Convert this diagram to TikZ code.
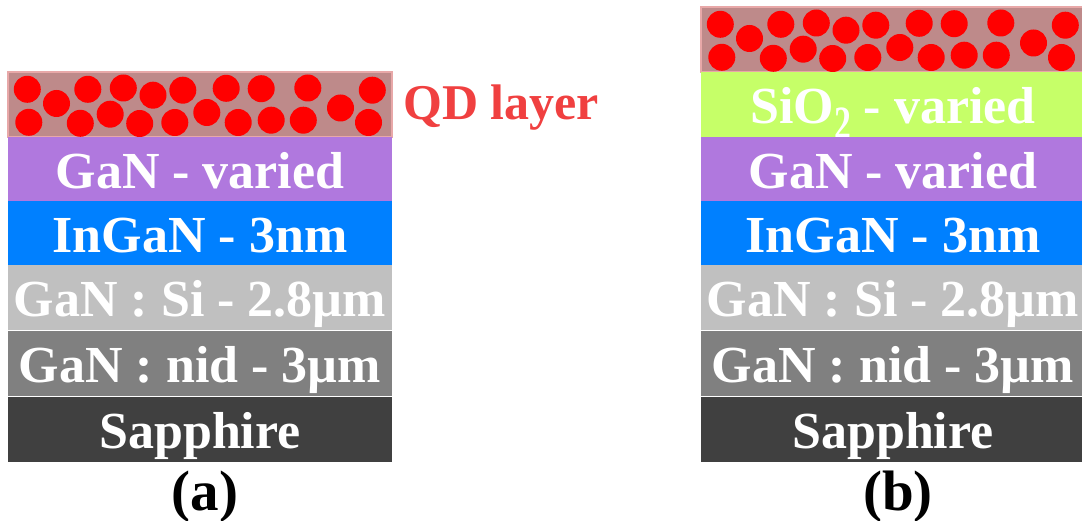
\documentclass[tikz,border=0pt]{standalone}
\usepackage{fontspec}
\usepackage{graphicx}
\setmainfont{Liberation Serif}
\definecolor{qdbg}{RGB}{190,138,138}
\definecolor{qdedge}{RGB}{232,168,168}
\definecolor{qdred}{RGB}{255,0,0}
\definecolor{qdlabel}{RGB}{240,64,64}
\definecolor{ganvar}{RGB}{176,120,222}
\definecolor{ingan}{RGB}{0,128,255}
\definecolor{gansi}{RGB}{192,192,192}
\definecolor{gannid}{RGB}{128,128,128}
\definecolor{sapph}{RGB}{64,64,64}
\definecolor{sio}{RGB}{198,255,104}
\begin{document}
\begin{tikzpicture}[x=1pt,y=-1pt,
  layerbox/.style={rectangle, inner sep=0pt, outer sep=0pt, anchor=north west,
    minimum width=384pt, minimum height=65pt, text=white,
    font=\fontsize{52}{52}\selectfont\bfseries, text height=38pt, text depth=0pt},
  qdbox/.style={layerbox, fill=qdbg, draw=qdedge, line width=1.2pt},
  dot/.style={fill=qdred},
  caption/.style={font=\fontsize{57}{57}\selectfont\bfseries, anchor=base}]
\useasboundingbox (0,0) rectangle (1082,521);

% dot layout inside a quantum-dot layer, relative to its top-left corner
\def\dotlist{19.3/17.3, 48.5/31.5, 79.8/17.3, 72.3/51.3, 115.3/16, 102.2/42.2,
  145/23.2, 131.7/51.5, 174.8/18.2, 166.8/50.5, 198.8/40.5, 218.2/16.3,
  230.2/50.5, 253.2/16.7, 263.2/48.2, 299.8/16, 295.3/48.2, 332.5/36,
  364.3/18.2, 360.5/50.5, 20.8/50.3}

% ---------- stack (a) ----------
\node[qdbox]                 (qdA)   at (8,72)  {};
\foreach \dx/\dy in \dotlist \fill[qdred] (8+\dx,72+\dy) circle (13.5);
\node[layerbox, fill=ganvar] (ganA)  at (8,137) {GaN - varied};
\node[layerbox, fill=ingan]  (inA)   at (8,201) {InGaN - 3nm};
\node[layerbox, fill=gansi]  (siA)   at (8,265) {GaN : Si - 2.8µm};
\node[layerbox, fill=gannid] (nidA)  at (8,331) {GaN : nid - 3µm};
\node[layerbox, fill=sapph]  (sapA)  at (8,397) {Sapphire};
\node[anchor=base west, inner sep=0pt, text=qdlabel,
  font=\fontsize{50}{50}\selectfont\bfseries] (qdlab) at (403,120) {QD layer};
\node[caption] (capA) at (205,510) {(a)};

% ---------- stack (b) ----------
\begin{scope}
\clip (0,0) rectangle (1082,521);
\node[qdbox]                 (qdB)   at (701,7)   {};
\foreach \dx/\dy in \dotlist \fill[qdred] (701+\dx,7+\dy) circle (13.5);
\node[layerbox, fill=sio]    (sioB)  at (701,72)  {SiO\raisebox{-16pt}{\scalebox{0.65}[0.92]{2}} - varied};
\node[layerbox, fill=ganvar] (ganB)  at (701,137) {GaN - varied};
\node[layerbox, fill=ingan]  (inB)   at (701,201) {InGaN - 3nm};
\node[layerbox, fill=gansi]  (siB)   at (701,265) {GaN : Si - 2.8µm};
\node[layerbox, fill=gannid] (nidB)  at (701,331) {GaN : nid - 3µm};
\node[layerbox, fill=sapph]  (sapB)  at (701,397) {Sapphire};
\end{scope}
\node[caption] (capB) at (898,510) {(b)};
\end{tikzpicture}
\end{document}
